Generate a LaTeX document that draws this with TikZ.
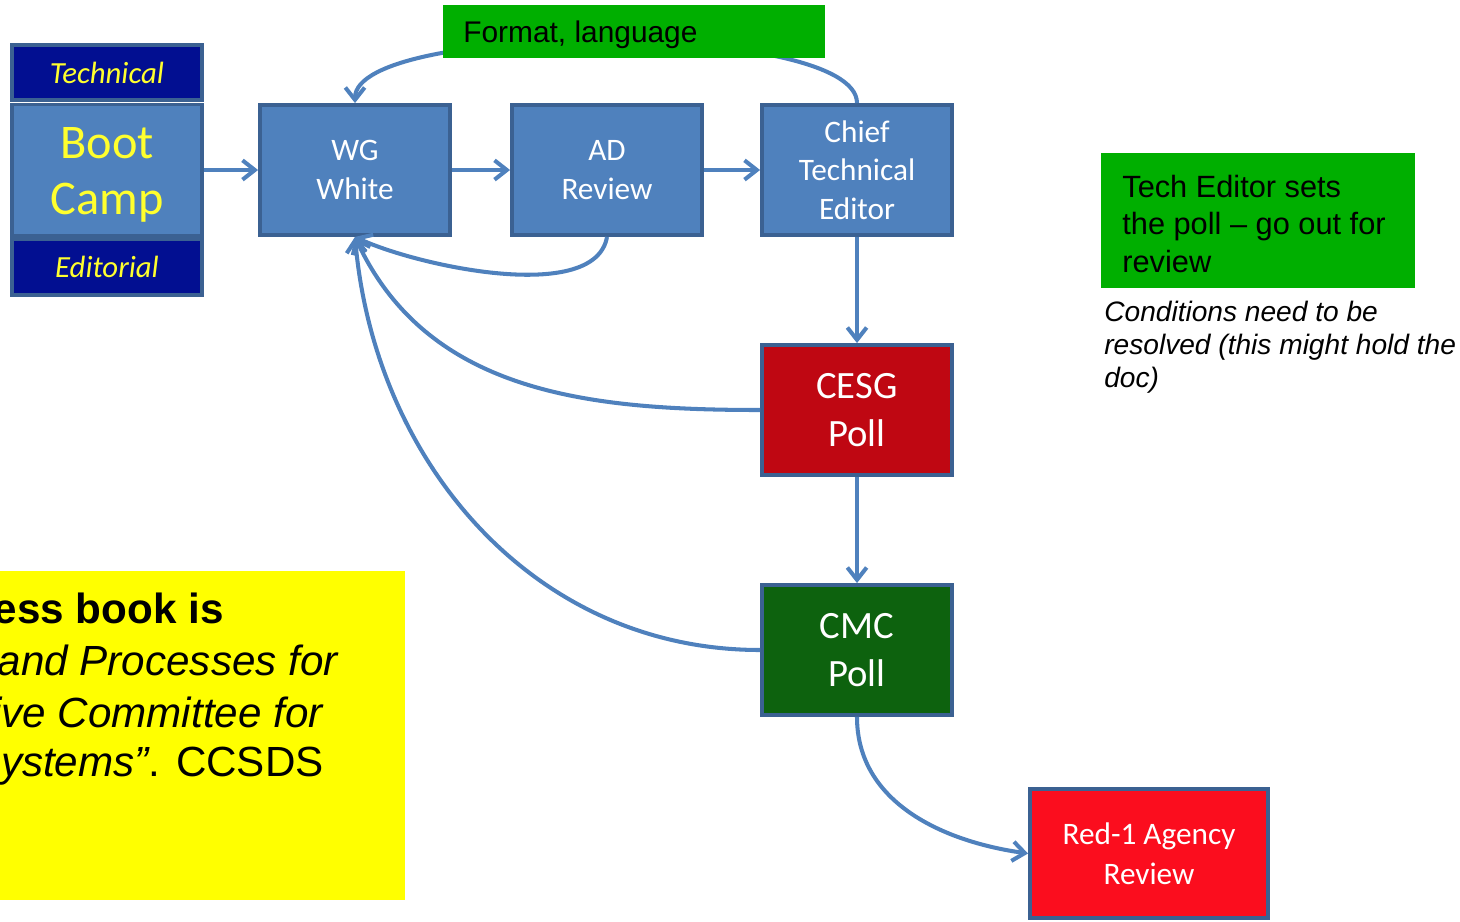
\documentclass[tikz,border=0pt]{standalone}
\usepackage{fontspec}
\setmainfont{Liberation Sans}
\newfontfamily\carl{Carlito}
\usetikzlibrary{arrows.meta}
\definecolor{boxblue}{HTML}{4F81BD}
\definecolor{boxedge}{HTML}{3B6192}
\definecolor{navyband}{HTML}{020F91}
\definecolor{cesgred}{HTML}{BF0712}
\definecolor{cmcgreen}{HTML}{0D620E}
\definecolor{agred}{HTML}{FB0D1E}
\definecolor{notegreen}{HTML}{00AF00}
\definecolor{campyellow}{HTML}{FFFF2E}
\definecolor{bookyellow}{HTML}{FFFF00}
\tikzset{
  proc/.style={draw=boxedge, line width=2.2pt, fill=boxblue, minimum width=3.8cm, minimum height=2.6cm, inner sep=0pt, align=center, text=white, font=\carl\fontsize{17.8}{21.8}\selectfont},
  band/.style={draw=boxedge, line width=2.2pt, fill=navyband, minimum width=3.8cm, inner sep=0pt, text=campyellow, font=\carl\itshape\fontsize{17.5}{21}\selectfont},
  poll/.style={proc, font=\carl\fontsize{22}{27}\selectfont},
  flow/.style={draw=boxblue, line width=2.3pt, -{Straight Barb[length=7pt,width=11pt,line width=2.3pt]}},
  note/.style={fill=notegreen, inner sep=0pt, text=black},
  ytext/.style={anchor=base east, inner sep=0pt, text=black, font=\fontsize{24}{29}\selectfont}
}
\begin{document}
\begin{tikzpicture}
\useasboundingbox (0,0) rectangle (29.2,-18.44);
% yellow box
\fill[bookyellow] (0,-11.42) rectangle (8.1,-18.0);
\begin{scope}
\clip (0,-11.42) rectangle (8.1,-18.0);
\node[ytext] (y1) at (4.48,-12.46) {\bfseries ess book is};
\node[ytext] (y2) at (6.76,-13.50) {\itshape and Processes for};
\node[ytext] (y3) at (6.46,-14.54) {\itshape ive Committee for};
\node[ytext] (y4) at (6.48,-15.52) {{\itshape Systems”}. CCSDS};
\end{scope}
% boot camp
\node[band, minimum height=1.1cm] (tech) at (2.14,-1.45) {Technical};
\node[proc, minimum height=2.62cm] (boot) at (2.14,-3.40) {};
\node[align=center, inner sep=0pt, text=campyellow, font=\carl\fontsize{27.5}{32}\selectfont] (bootlbl) at (2.14,-3.50) {Boot\\Camp};
\node[band, minimum height=1.12cm] (edit) at (2.14,-5.34) {Editorial};
% process boxes
\node[proc] (wg) at (7.10,-3.40) {WG\\White};
\node[proc] (ad) at (12.14,-3.40) {AD\\Review};
\node[proc] (chief) at (17.14,-3.40) {Chief\\Technical\\Editor};
\node[poll, fill=cesgred] (cesg) at (17.14,-8.20) {CESG\\Poll};
\node[poll, fill=cmcgreen] (cmc) at (17.14,-13.00) {CMC\\Poll};
\node[proc, fill=agred, minimum width=4.76cm, minimum height=2.58cm, font=\carl\fontsize{17.8}{22.5}\selectfont] (red) at (22.98,-17.07) {Red-1 Agency\\Review};
% connectors
\draw[flow] (boot.east) -- (wg.west);
\draw[flow] (wg.east) -- (ad.west);
\draw[flow] (ad.east) -- (chief.west);
\draw[flow] (chief.south) -- (cesg.north);
\draw[flow] (cesg.south) -- (cmc.north);
\draw[flow] (cmc.south) to[out=-90,in=172] (red.west);
\draw[flow] (ad.south) to[out=-100,in=-25,looseness=0.7] (wg.south);
\draw[flow] (cesg.west) to[out=180,in=-65] (wg.south);
\draw[flow] (cmc.west) to[out=180,in=-85] (wg.south);
\draw[flow] (chief.north) to[out=90,in=90,looseness=0.42] (wg.north);
% notes
\node[note, minimum width=7.64cm, minimum height=1.06cm, anchor=north west] (fmt) at (8.86,-0.10) {};
\node[anchor=west, inner sep=0pt, font=\fontsize{17}{20}\selectfont] (fmtt) at (9.26,-0.70) {Format, language};
\node[note, minimum width=6.28cm, minimum height=2.70cm, anchor=north west] (te) at (22.02,-3.06) {};
\node[anchor=west, align=left, inner sep=0pt, font=\fontsize{17.5}{21.5}\selectfont] (tet) at (22.44,-4.48) {Tech Editor sets\\the poll – go out for\\review};
\node[anchor=north west, align=left, inner sep=0pt, font=\itshape\fontsize{16}{18.7}\selectfont] (cond) at (22.08,-6.02) {Conditions need to be\\resolved (this might hold the\\doc)};
\end{tikzpicture}
\end{document}
